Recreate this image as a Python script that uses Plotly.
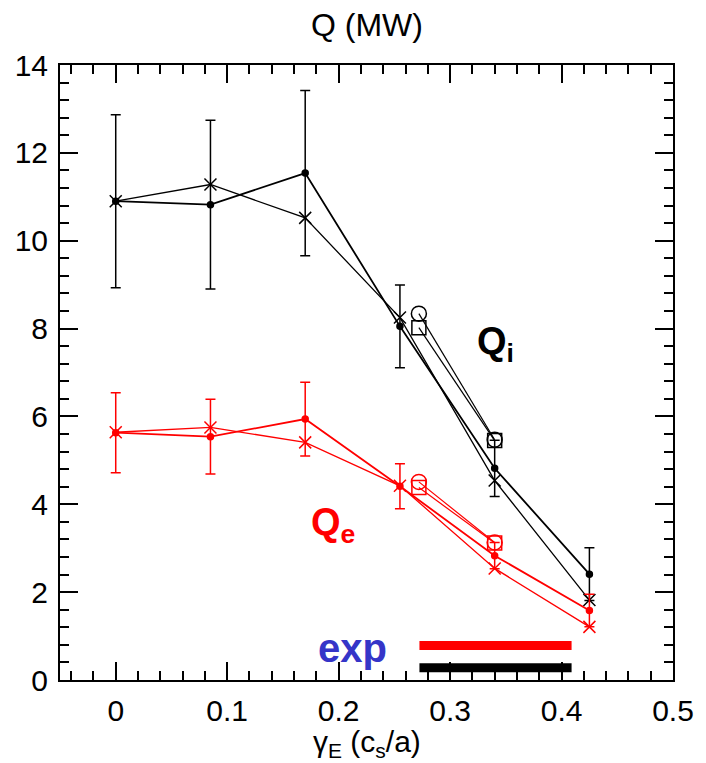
import plotly.graph_objects as go

# ---------------- data ----------------
gamma = [0.0, 0.085, 0.17, 0.255, 0.34, 0.425]
qi_dot = [10.90, 10.82, 11.54, 8.05, 4.82, 2.41]
qi_err = [1.97, 1.92, 1.88, 0.94, 0.64, 0.60]
qi_x = [10.90, 11.28, 10.52, 8.25, 4.54, 1.82]

qe_dot = [5.63, 5.54, 5.94, 4.41, 2.83, 1.58]
qe_err = [0.91, 0.85, 0.84, 0.51, 0.30, 0.37]
qe_x = [5.64, 5.75, 5.41, 4.42, 2.54, 1.21]

gamma_b = [0.272, 0.34]
qi_circ = [8.34, 5.47]
qi_sq = [8.02, 5.45]
qe_circ = [4.51, 3.13]
qe_sq = [4.38, 3.12]

exp_x = [0.2725, 0.409]
exp_qe = 0.785
exp_qi = 0.28

x_ticks = [0, 0.1, 0.2, 0.3, 0.4, 0.5]
x_ticklabels = ["0", "0.1", "0.2", "0.3", "0.4", "0.5"]
y_ticks = [0, 2, 4, 6, 8, 10, 12, 14]

FONT = "Liberation Sans, Arial, Helvetica, sans-serif"
RED = "#ff0000"
BLK = "#000000"
BLUE = "#3535c8"

fig = go.Figure()

def add_series(x, y, color, symbol, size, lw, mlw=1.5, err=None):
    tr = dict(x=x, y=y, mode="lines+markers",
              line=dict(color=color, width=lw),
              marker=dict(symbol=symbol, size=size, color=color,
                          line=dict(color=color, width=mlw)),
              showlegend=False, hoverinfo="skip")
    if err is not None:
        tr["error_y"] = dict(type="data", array=err, visible=True,
                             color=color, thickness=1.5, width=5)
    fig.add_trace(go.Scatter(**tr))

# Qi (black)
add_series(gamma, qi_dot, BLK, "circle", 6, 1.8, err=qi_err)
add_series(gamma, qi_x, BLK, "x-thin-open", 12, 1.3)
add_series(gamma_b, qi_circ, BLK, "circle-open", 15, 1.2)
add_series(gamma_b, qi_sq, BLK, "square-open", 14, 1.2)

# Qe (red)
add_series(gamma, qe_dot, RED, "circle", 6, 1.8, err=qe_err)
add_series(gamma, qe_x, RED, "x-thin-open", 12, 1.3)
add_series(gamma_b, qe_circ, RED, "circle-open", 15, 1.2)
add_series(gamma_b, qe_sq, RED, "square-open", 14, 1.2)

# experimental bars
fig.add_trace(go.Scatter(x=exp_x, y=[exp_qe, exp_qe], mode="lines",
                         line=dict(color=RED, width=9), showlegend=False,
                         hoverinfo="skip"))
fig.add_trace(go.Scatter(x=exp_x, y=[exp_qi, exp_qi], mode="lines",
                         line=dict(color=BLK, width=9), showlegend=False,
                         hoverinfo="skip"))

axis_common = dict(showline=True, linecolor="black", linewidth=2,
                   mirror="allticks", ticks="inside", tickcolor="black",
                   tickwidth=1.5, ticklen=18, showgrid=False, zeroline=False,
                   tickfont=dict(family=FONT, size=30, color="black"))

fig.update_xaxes(range=[-0.05, 0.5], tickvals=x_ticks, ticktext=x_ticklabels,
                 minor=dict(dtick=0.02, tick0=0, ticks="inside", ticklen=9,
                            tickwidth=1.5, tickcolor="black", showgrid=False),
                 ticklabelstandoff=3,
                 **axis_common)
fig.update_yaxes(range=[0, 14], tickvals=y_ticks,
                 minor=dict(dtick=0.4, tick0=0, ticks="inside", ticklen=9,
                            tickwidth=1.5, tickcolor="black", showgrid=False),
                 ticklabelstandoff=4,
                 **axis_common)

annotations = [
    dict(text="Q (MW)", x=0.5, y=1 + 40 / 615, xref="paper", yref="paper",
         showarrow=False, xanchor="center", yanchor="middle",
         font=dict(family=FONT, size=32, color="black")),
    dict(text="γ<sub>E</sub> (c<sub>s</sub>/a)", x=0.5, y=-63 / 615,
         xref="paper", yref="paper", showarrow=False, xanchor="center",
         yanchor="middle", font=dict(family=FONT, size=30, color="black")),
    dict(text="<b>Q<sub>i</sub></b>", x=0.322, y=7.65, xref="x", yref="y",
         showarrow=False, xanchor="left", yanchor="middle",
         font=dict(family=FONT, size=38, color=BLK)),
    dict(text="<b>Q<sub>e</sub></b>", x=0.173, y=3.52, xref="x", yref="y",
         showarrow=False, xanchor="left", yanchor="middle",
         font=dict(family=FONT, size=38, color=RED)),
    dict(text="<b>exp</b>", x=0.18, y=0.72, xref="x", yref="y",
         showarrow=False, xanchor="left", yanchor="middle",
         font=dict(family=FONT, size=40, color=BLUE)),
]

fig.update_layout(width=706, height=763,
                  margin=dict(l=60, r=29, t=65, b=83),
                  plot_bgcolor="white", paper_bgcolor="white",
                  annotations=annotations, showlegend=False)

fig.write_html("out.html")
